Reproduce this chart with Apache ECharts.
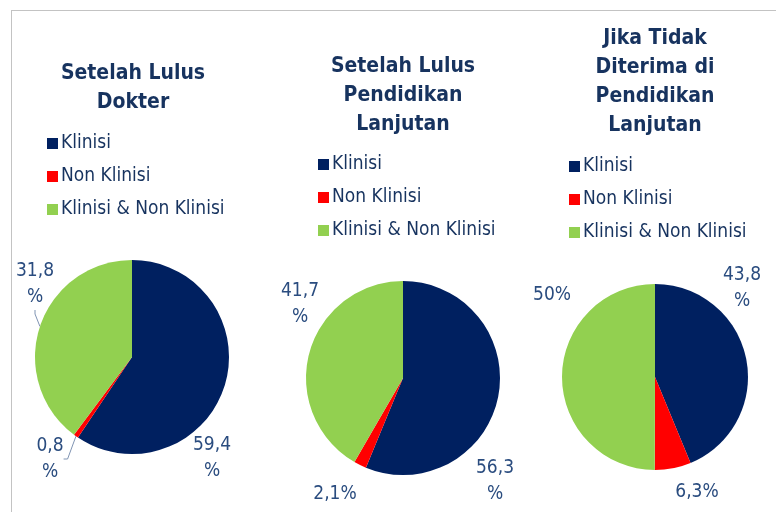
<!DOCTYPE html>
<html>
<head>
<meta charset="utf-8">
<script src="https://cdn.jsdelivr.net/npm/echarts@6/dist/echarts.min.js"></script>
<style>
  html, body { margin: 0; padding: 0; background: #fff; }
  #main { width: 776px; height: 512px; }
  #frame { position: absolute; left: 11px; top: 10px; width: 780px; height: 520px;
           border-left: 1px solid #c3c3c3; border-top: 1px solid #c3c3c3; pointer-events: none; }
</style>
</head>
<body>
<div id="main"></div>
<div id="frame"></div>
<script>
// kategori
const categories = ['Klinisi', 'Non Klinisi', 'Klinisi & Non Klinisi'];
const colors = ['#002060', '#ff0000', '#92d050'];

// judul tiap pie
const titles = [
    'Setelah Lulus\nDokter',
    'Setelah Lulus\nPendidikan\nLanjutan',
    'Jika Tidak\nDiterima di\nPendidikan\nLanjutan'
];

// nilai (%)
const valsDokter = [59.4, 0.8, 39.8];
const valsPendidikan = [56.3, 2.1, 41.7];
const valsTidakDiterima = [43.8, 6.3, 50];

// teks label seperti di gambar
const labelsDokter = ['59,4\n%', '0,8\n%', '31,8\n%'];
const labelsPendidikan = ['56,3\n%', '2,1%', '41,7\n%'];
const labelsTidakDiterima = ['43,8\n%', '6,3%', '50%'];

const textFont = '"DejaVu Sans Condensed", "DejaVu Sans", sans-serif';

// posisi label (pusat teks) ala "best fit" excel
const labelPos = [
    [[212, 458], [50, 459], [35, 284]],
    [[495, 481], [335, 494], [300, 304]],
    [[742, 288], [697, 492], [552, 295]]
];
// garis penunjuk hanya di pie pertama
const showLine = [[false, true, true], [false, false, false], [false, false, false]];

const toData = (vals, labels, s) => vals.map((v, i) => ({
    name: categories[i],
    value: v,
    labelText: labels[i],
    labelLine: { show: showLine[s][i] }
}));

const pieSeries = (data, center, radius, s) => ({
    type: 'pie',
    center: center,
    radius: radius,
    startAngle: 90,
    clockwise: true,
    avoidLabelOverlap: false,
    data: data,
    itemStyle: { borderWidth: 0 },
    emphasis: { disabled: true },
    label: {
        show: true,
        position: 'outside',
        formatter: p => p.data.labelText,
        color: '#2a4c7f',
        fontFamily: textFont,
        fontSize: 19,
        lineHeight: 26,
        align: 'center'
    },
    labelLine: {
        show: false, length: 6, length2: 4,
        lineStyle: { color: '#7f93b2', width: 1 }
    },
    labelLayout: p => ({
        x: labelPos[s][p.dataIndex][0],
        y: labelPos[s][p.dataIndex][1],
        align: 'center',
        verticalAlign: 'middle'
    })
});

const titleCfg = (text, left, top) => ({
    text: text,
    left: left,
    top: top,
    textAlign: 'center',
    textStyle: {
        color: '#17335f',
        fontFamily: textFont,
        fontWeight: 'bold',
        fontSize: 21,
        lineHeight: 29
    }
});

const legendCfg = (left, top) => ({
    data: categories,
    orient: 'vertical',
    left: left,
    top: top,
    icon: 'rect',
    itemWidth: 11,
    itemHeight: 11,
    itemGap: 14,
    selectedMode: false,
    textStyle: { color: '#17335f', fontFamily: textFont, fontSize: 19, padding: [0, 0, 0, -2] }
});

const option = {
    color: colors,
    animation: false,
    title: [
        titleCfg(titles[0], 128, 54),
        titleCfg(titles[1], 398, 47),
        titleCfg(titles[2], 650, 19)
    ],
    legend: [
        legendCfg(42, 129),
        legendCfg(313, 150),
        legendCfg(564, 152)
    ],
    series: [
        pieSeries(toData(valsDokter, labelsDokter, 0), [132, 357], 97, 0),
        pieSeries(toData(valsPendidikan, labelsPendidikan, 1), [403, 378], 97, 1),
        pieSeries(toData(valsTidakDiterima, labelsTidakDiterima, 2), [655, 377], 93, 2)
    ]
};

const chart = echarts.init(document.getElementById('main'));
chart.setOption(option);
</script>
</body>
</html>
